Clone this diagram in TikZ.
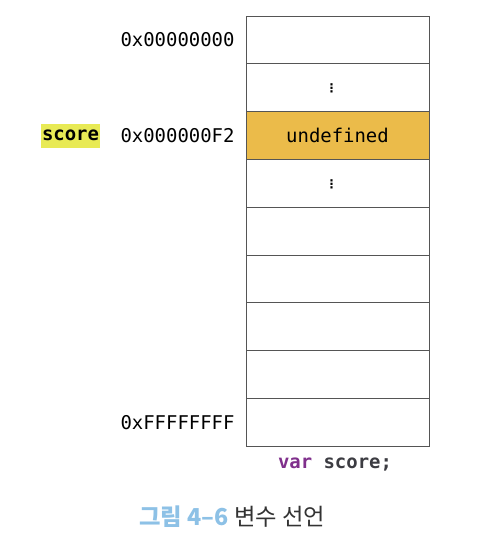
\documentclass[tikz,border=0pt]{standalone}
\usepackage{fontspec}
\setmonofont{DejaVu Sans Mono}
\newfontfamily\krfont{Noto Sans CJK KR}
\newfontfamily\symfont{DejaVu Sans}
\definecolor{cellline}{RGB}{85,85,85}
\definecolor{cellfill}{RGB}{235,187,74}
\definecolor{markyellow}{RGB}{232,234,85}
\definecolor{varpurple}{RGB}{128,48,140}
\definecolor{codegray}{RGB}{60,60,66}
\definecolor{capblue}{RGB}{141,193,230}
\tikzset{every picture/.style={line width=0.75pt}}
\tikzset{
  cell/.style={draw=cellline, fill=white, minimum width=137.25pt, minimum height=35.85pt, inner sep=0pt, font=\fontsize{14.2}{16}\ttfamily},
  addr/.style={anchor=east, inner sep=0.75pt, font=\fontsize{14.2}{16}\ttfamily},
  vdots/.style={font=\fontsize{9}{10}\symfont\bfseries, xshift=-4.5pt, yshift=-0.75pt},
}

\begin{document}
\begin{tikzpicture}[x=0.75pt,y=0.75pt,yscale=-1,xscale=1]
%set diagram left start at 0, and has size of 484 x 544
\path (0,0) rectangle (484,544);

%Memory cells
\foreach \i in {1,...,9}
  \node [cell] (c\i) at (337.5,{16+47.8*(\i-0.5)}) {};
%Shape: Filled cell
\node [cell, fill=cellfill] (c3) at (337.5,{16+47.8*2.5}) {undefined};

% Text Node
\node [vdots] (dotsa) at (c2.center) {⋮};
% Text Node
\node [vdots] (dotsb) at (c4.center) {⋮};

% Text Node
\node [addr] (addrtop) at (236,39.9) {0x00000000};
% Text Node
\node [addr] (addrscore) at (236,135.5) {0x000000F2};
% Text Node
\node [addr] (addrbot) at (236,422.2) {0xFFFFFFFF};
% Text Node
\node [anchor=east, fill=markyellow, inner sep=0.75pt, minimum height=18pt, font=\fontsize{14.2}{16}\ttfamily\bfseries] (score) at (100.5,135.5) {score};

% Text Node
\node [font=\fontsize{14.2}{16}\ttfamily\bfseries, text=codegray] (decl) at (335,465) {\textcolor{varpurple}{var} score;};

% Text Node
\node [anchor=west, inner sep=0pt, font=\fontsize{17.5}{20}\krfont, text=black!80] (caption) at (139,517) {\textcolor{capblue}{\bfseries 그림 4–6} 변수 선언};

\end{tikzpicture}
\end{document}
